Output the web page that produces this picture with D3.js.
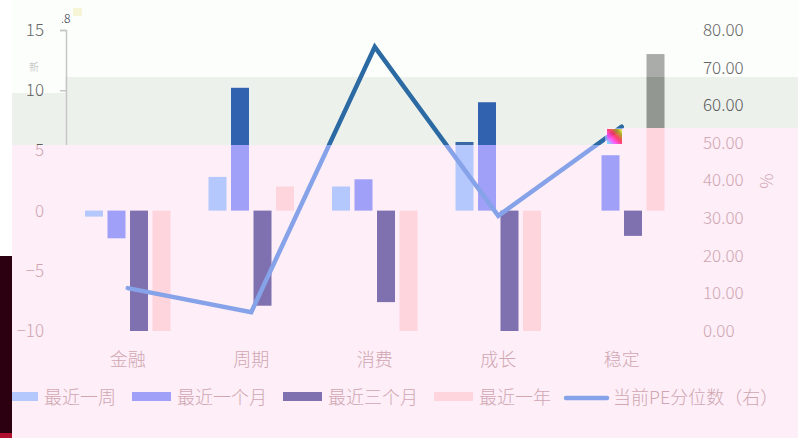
<!DOCTYPE html>
<html><head><meta charset="utf-8">
<script src="https://cdn.jsdelivr.net/npm/d3@7"></script>
<style>
html,body{margin:0;padding:0;background:#fff;}
svg{display:block;}
text{font-family:"Noto Sans CJK SC","Noto Sans",sans-serif;font-weight:300;}
</style></head>
<body>
<svg id="chart" width="799" height="438"></svg>
<script>
// ---- data ----
const categories = ["金融","周期","消费","成长","稳定"];
const seriesNames = ["最近一周","最近一个月","最近三个月","最近一年"];
const week   = [-0.5, 2.8, 2.0, 5.7, 0];
const month  = [-2.3, 10.2, 2.6, 9.0, 4.6];
const month3 = [-10.6, -7.9, -7.6, -10.8, -2.1];
const year   = [-10.9, 2.0, -11.5, -12.3, 13.0];
const peRank = [11.4, 5.0, 75.5, 30.6, 54.3];
const lineName = "当前PE分位数（右）";
const leftTicks = [15, 10, 5, 0, -5, -10];
const rightTicks = [80, 70, 60, 50, 40, 30, 20, 10, 0];

const series = [week, month, month3, year];
const keys = ["week","month","m3","year"];

// ---- palettes per region ----
const palA = {bg:"#fdeef8", week:"#b4c8fd", month:"#a0a0f8", m3:"#7f71b0", year:"#ffd5dd", line:"#86a2e8", text:"#d0a6b0", axis:"none"};
const palB = {bg:"#edf1ec", week:"#3a6aa6", month:"#3162b0", m3:"#4a3f78", year:"#929792", line:"#2b6aa3", text:"#5c5c5c", axis:"#c6c6c6"};
const palC = {bg:"#fcfefc", week:"#3a6aa6", month:"#3162b0", m3:"#4a3f78", year:"#a9aca9", line:"#2b6aa3", text:"#666666", axis:"#c6c6c6"};

const svg = d3.select("#chart");
const W = 799, H = 438;

// scales
const x0 = d3.scaleBand().domain(categories).range([66, 683.5]).padding(0);
const x1 = d3.scaleBand().domain(keys).range([0, x0.bandwidth()]).paddingInner(0.2).paddingOuter(0.844);
const yL = d3.scaleLinear().domain([-10, 15]).range([331, 30]);
const yR = d3.scaleLinear().domain([0, 80]).range([331, 30]);

const defs = svg.append("defs");
function clip(id, rects){
  const cp = defs.append("clipPath").attr("id", id);
  rects.forEach(r => cp.append("rect").attr("x", r[0]).attr("y", r[1]).attr("width", r[2]).attr("height", r[3]));
}
clip("clipC", [[12,0,786,77],[12,77,53,16]]);
clip("clipB", [[65,77,540,68],[605,77,193,51],[12,93,53,52]]);
clip("clipA", [[12,145,786,293],[605,128,193,17]]);

const grad = defs.append("linearGradient").attr("id","glitch").attr("x1","0").attr("y1","1").attr("x2","1").attr("y2","0");
[["0%","#40ffff"],["30%","#ff40ff"],["55%","#ff2050"],["80%","#a0a000"],["100%","#ffff60"]].forEach(s =>
  grad.append("stop").attr("offset", s[0]).attr("stop-color", s[1]));

// left strip
svg.append("rect").attr("x",0).attr("y",0).attr("width",12).attr("height",256).attr("fill","#ffffff");
svg.append("rect").attr("x",0).attr("y",256).attr("width",12).attr("height",182).attr("fill","#2c0010");
svg.append("rect").attr("x",0).attr("y",433).attr("width",12).attr("height",5).attr("fill","#b01030");

function draw(pal, clipId){
  const g = svg.append("g").attr("clip-path", `url(#${clipId})`);
  g.append("rect").attr("x",0).attr("y",0).attr("width",W).attr("height",H).attr("fill",pal.bg);

  // left axis
  const la = g.append("g").attr("transform","translate(66,0)")
    .call(d3.axisLeft(yL).tickValues(leftTicks).tickSize(6).tickPadding(16).tickFormat(d3.format("d")));
  la.select(".domain").attr("stroke", pal.axis).attr("stroke-width",1.5);
  la.selectAll(".tick line").attr("stroke", pal.axis).attr("stroke-width",1.5);
  la.selectAll(".tick text").attr("fill", pal.text).attr("font-size", 17).attr("font-family","'Noto Sans CJK SC',sans-serif");

  // right axis labels
  const ra = g.append("g").attr("transform","translate(697,0)")
    .call(d3.axisRight(yR).tickValues(rightTicks).tickSize(0).tickPadding(6).tickFormat(d3.format(".2f")));
  ra.select(".domain").remove();
  ra.selectAll(".tick text").attr("fill", pal.text).attr("font-size", 17).attr("font-family","'Noto Sans CJK SC',sans-serif");

  g.append("text").attr("transform","translate(767,181) rotate(90)")
    .attr("text-anchor","middle").attr("dominant-baseline","central")
    .attr("fill", pal.text).attr("font-size",17).text("%");

  // bars
  series.forEach((vals, si) => {
    const k = keys[si];
    g.append("g").selectAll("rect").data(vals).join("rect")
      .attr("x", (d,i) => x0(categories[i]) + x1(k))
      .attr("width", x1.bandwidth())
      .attr("y", d => yL(Math.max(0, Math.min(15, Math.max(-10,d)))))
      .attr("height", d => Math.abs(yL(Math.max(-10, Math.min(15,d))) - yL(0)))
      .attr("fill", pal[k]);
  });

  // line
  const line = d3.line().x((d,i) => x0(categories[i]) + x0.bandwidth()/2).y(d => yR(d));
  g.append("path").datum(peRank).attr("d", line).attr("fill","none")
    .attr("stroke", pal.line).attr("stroke-width", 4.5).attr("stroke-linecap","round").attr("stroke-linejoin","miter");

  // category labels
  g.append("g").selectAll("text").data(categories).join("text")
    .attr("x", d => x0(d) + x0.bandwidth()/2).attr("y", 358)
    .attr("text-anchor","middle").attr("dominant-baseline","central")
    .attr("fill", pal.text).attr("font-size", 18).text(d => d);

  // legend
  const legX = [4, 132, 283, 434];
  const legTextX = [44, 177, 328, 479];
  seriesNames.forEach((nm, i) => {
    g.append("rect").attr("x", legX[i]).attr("y", 392).attr("width", i===0?34:39).attr("height", 9).attr("fill", pal[keys[i]]);
    g.append("text").attr("x", legTextX[i]).attr("y", 396).attr("dominant-baseline","central")
      .attr("fill", pal.text).attr("font-size", 18).text(nm);
  });
  g.append("line").attr("x1",566).attr("x2",607).attr("y1",398).attr("y2",398)
    .attr("stroke", pal.line).attr("stroke-width",4.5).attr("stroke-linecap","round");
  g.append("text").attr("x", 613).attr("y", 396).attr("dominant-baseline","central")
    .attr("fill", pal.text).attr("font-size", 18).text(lineName);
}

draw(palA, "clipA");
draw(palB, "clipB");
draw(palC, "clipC");

// small glitch artifacts
svg.append("rect").attr("x",607).attr("y",129).attr("width",15).attr("height",15).attr("fill","url(#glitch)").attr("opacity",0.85);
svg.append("text").attr("x",61).attr("y",23).attr("font-size",12).attr("fill","#334").text(".8");
svg.append("rect").attr("x",73).attr("y",8).attr("width",9).attr("height",8).attr("fill","#f4f2c8").attr("opacity",0.7);
svg.append("text").attr("x",29).attr("y",71).attr("font-size",10).attr("fill","#999").attr("opacity",0.7).text("新");
</script>
</body></html>
